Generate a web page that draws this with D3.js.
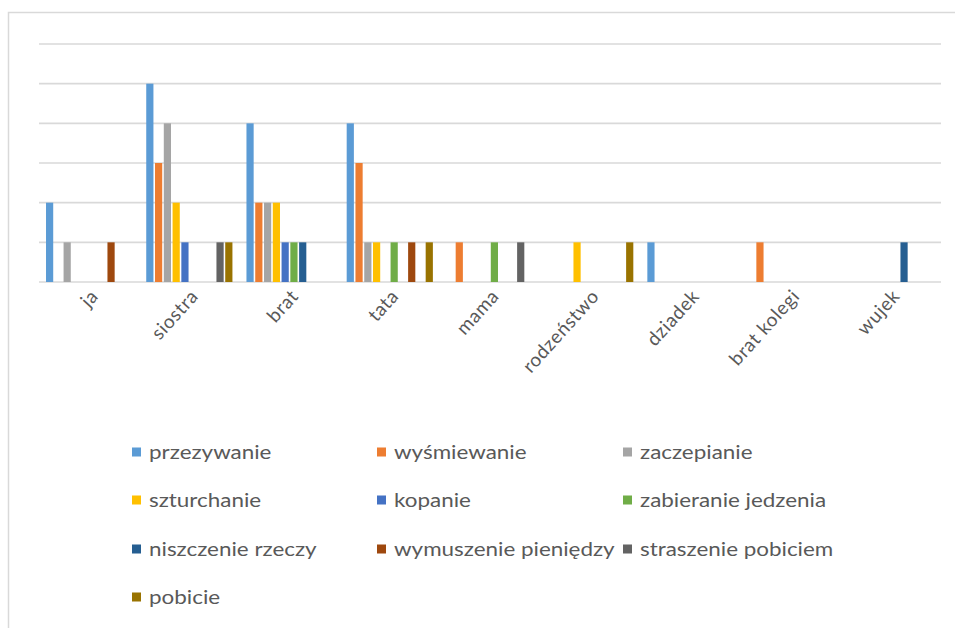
<!DOCTYPE html>
<html><head><meta charset="utf-8">
<script src="https://cdn.jsdelivr.net/npm/d3@7/dist/d3.min.js"></script>
<style>
html,body{margin:0;padding:0;background:#fff;}
svg{display:block;}
text{font-family:Lato,"Open Sans",sans-serif;fill:#595959;}
</style></head>
<body>
<svg id="chart" width="955" height="628"></svg>
<script>
const categories = ["ja","siostra","brat","tata","mama","rodzeństwo","dziadek","brat kolegi","wujek"];
const seriesNames = ["przezywanie","wyśmiewanie","zaczepianie","szturchanie","kopanie","zabieranie jedzenia","niszczenie rzeczy","wymuszenie pieniędzy","straszenie pobiciem","pobicie"];
const seriesColors = ["#5B9BD5","#ED7D31","#A5A5A5","#FFC000","#4472C4","#70AD47","#255E91","#9E480E","#636363","#997300"];
// values[series][category]
const przezywanie        = [2,5,4,4,0,0,1,0,0];
const wysmiewanie        = [0,3,2,3,1,0,0,1,0];
const zaczepianie        = [1,4,2,1,0,0,0,0,0];
const szturchanie        = [0,2,2,1,0,1,0,0,0];
const kopanie            = [0,1,1,0,0,0,0,0,0];
const zabieranieJedzenia = [0,0,1,1,1,0,0,0,0];
const niszczenieRzeczy   = [0,0,1,0,0,0,0,0,1];
const wymuszeniePieniedzy= [1,0,0,1,0,0,0,0,0];
const straszeniePobiciem = [0,1,0,0,1,0,0,0,0];
const pobicie            = [0,1,0,1,0,1,0,0,0];
const seriesValues = [przezywanie,wysmiewanie,zaczepianie,szturchanie,kopanie,zabieranieJedzenia,niszczenieRzeczy,wymuszeniePieniedzy,straszeniePobiciem,pobicie];
const yTicks = [0,1,2,3,4,5,6];

const svg = d3.select("#chart");
// frame
svg.append("rect").attr("x",8.5).attr("y",12.5).attr("width",960).attr("height",700)
  .attr("fill","none").attr("stroke","#D9D9D9").attr("stroke-width",1.5);

const pLeft=39, pRight=941, pTop=44, pBottom=282;
const x0 = d3.scaleBand().domain(categories).range([pLeft,pRight]).paddingInner(0.14).paddingOuter(0.07);
const x1 = d3.scaleBand().domain(seriesNames).range([0,x0.bandwidth()]).paddingInner(0.18);
const y = d3.scaleLinear().domain([0,6]).range([pBottom,pTop]);

// gridlines
svg.append("g").selectAll("line").data(yTicks).join("line")
  .attr("x1",pLeft).attr("x2",pRight)
  .attr("y1",d=>y(d)).attr("y2",d=>y(d))
  .attr("stroke","#D9D9D9").attr("stroke-width",1.6);

// bars
const data=[];
categories.forEach((c,ci)=>seriesNames.forEach((s,si)=>{
  const v=seriesValues[si][ci]; if(v>0) data.push({c,s,v,si});
}));
svg.append("g").selectAll("rect").data(data).join("rect")
  .attr("x",d=>x0(d.c)+x1(d.s)).attr("width",x1.bandwidth())
  .attr("y",d=>y(d.v)).attr("height",d=>y(0)-y(d.v))
  .attr("fill",d=>seriesColors[d.si]);

// x axis labels (rotated)
const xAxis = d3.axisBottom(x0).tickSize(0).tickPadding(0);
const gx = svg.append("g").attr("transform",`translate(0,${pBottom})`).call(xAxis);
gx.select(".domain").remove();
gx.selectAll(".tick").each(function(){
  const t = d3.select(this);
  const txt = t.select("text").remove().text();
  t.append("g").attr("transform","translate(10,15)")
   .append("text")
   .attr("text-anchor","end")
   .attr("font-size",19)
   .attr("letter-spacing",0.6)
   .attr("transform","rotate(-48)")
   .style("fill","#595959")
   .text(txt);
});

// legend
const legCols=[132,377,623], legRows=[452,500,549,597];
const lg = svg.append("g").selectAll("g").data(seriesNames).join("g")
  .attr("transform",(d,i)=>`translate(${legCols[i%3]},${legRows[Math.floor(i/3)]})`);
lg.append("rect").attr("x",0).attr("y",-4.5).attr("width",9).attr("height",9)
  .attr("fill",(d,i)=>seriesColors[i]);
lg.append("text").attr("x",0).attr("y",0).attr("dy","0.35em")
  .attr("font-size",19)
  .attr("transform","translate(17,0) scale(1.18,1)")
  .text(d=>d);
</script>
</body></html>
